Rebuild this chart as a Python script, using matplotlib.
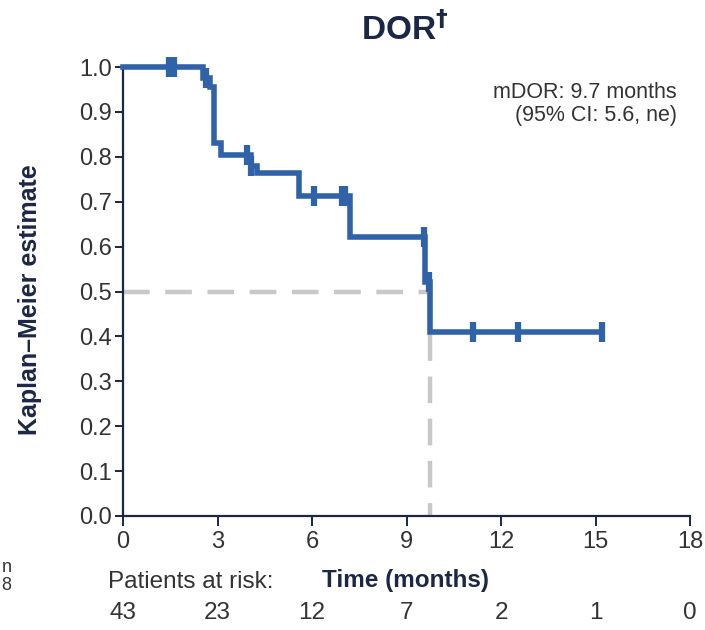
import numpy as np
import matplotlib
matplotlib.use("Agg")
import matplotlib.pyplot as plt

plt.rcParams["font.family"] = ["Liberation Sans", "DejaVu Sans"]

# Kaplan-Meier step data (time in months, survival estimate)
step_times = [0.0, 2.55, 2.75, 2.9, 3.1, 4.05, 4.25, 5.6, 7.2, 9.6, 9.75]
step_surv = [1.0, 0.975, 0.955, 0.83, 0.805, 0.78, 0.765, 0.713, 0.621, 0.522, 0.41]
end_time = 15.2
censor_times = [1.45, 1.55, 1.62, 2.65, 3.95, 4.05, 6.05, 6.95, 7.05, 9.55, 9.7, 11.1, 12.55, 15.2]
median_dor = 9.75
risk_times = [0, 3, 6, 9, 12, 15, 18]
risk_counts = [43, 23, 12, 7, 2, 1, 0]
xticks = [0, 3, 6, 9, 12, 15, 18]
yticks = [0.0, 0.1, 0.2, 0.3, 0.4, 0.5, 0.6, 0.7, 0.8, 0.9, 1.0]

blue = "#2F62A8"
navy = "#1B2745"
grey_txt = "#333333"

fig = plt.figure(figsize=(7.05, 6.3), dpi=100)
ax = fig.add_axes([123/705, 1-516/630, (690-123)/705, (516-67)/630])

# step curve
xs = list(step_times) + [end_time]
ys = list(step_surv) + [step_surv[-1]]
ax.step(xs, ys, where="post", color=blue, lw=4.0, solid_joinstyle="miter", clip_on=False, zorder=4)

# censor marks
def surv_at(t):
    idx = np.searchsorted(step_times, t, side="right") - 1
    return step_surv[idx]
cy = [surv_at(t) for t in censor_times]
ax.plot(censor_times, cy, linestyle="none", marker="|", markersize=15, markeredgewidth=4.5,
        color=blue, clip_on=False, zorder=5)

# median dashed lines
ax.plot([0, median_dor], [0.5, 0.5], color="#C8C8C8", lw=3.2, dashes=(6, 3.5), zorder=2)
ax.plot([median_dor, median_dor], [0.5, 0.0], color="#C8C8C8", lw=3.2, dashes=(6, 3.5), zorder=2)

ax.set_xlim(0, 18)
ax.set_ylim(0, 1.0)
ax.set_xticks(xticks)
ax.set_yticks(yticks)
ax.set_yticklabels([f"{v:.1f}" for v in yticks])
for s in ["top", "right"]:
    ax.spines[s].set_visible(False)
for s in ["left", "bottom"]:
    ax.spines[s].set_color(navy)
    ax.spines[s].set_linewidth(1.6)
ax.tick_params(axis="both", colors=navy, labelcolor=grey_txt, labelsize=17, width=1.4, length=7, direction="out")
ax.tick_params(axis="x", pad=4)
ax.tick_params(axis="y", pad=2, length=6)

fig.text(30/705, 1-300/630, "Kaplan\u2013Meier estimate", rotation=90, ha="center", va="center",
         fontsize=18, fontweight="bold", color=navy)

fig.text(405/705, 1-30/630, "DOR$^\\mathbf{\u2020}$", ha="center", va="center", fontsize=24,
         fontweight="bold", color=navy)

ax.text(0.977, 0.944, "mDOR: 9.7 months", transform=ax.transAxes, ha="right", va="center",
        fontsize=15.5, color=grey_txt)
ax.text(0.977, 0.893, "(95% CI: 5.6, ne)", transform=ax.transAxes, ha="right", va="center",
        fontsize=15.5, color=grey_txt)

# x label and risk table
fig.text(405/705, 1-580/630, "Time (months)", ha="center", va="center", fontsize=17.5,
         fontweight="bold", color=navy)
fig.text(108/705, 1-582/630, "Patients at risk:", ha="left", va="center", fontsize=17.5, color=grey_txt)
for t, n in zip(risk_times, risk_counts):
    xd = ax.transData.transform((t, 0))[0]
    xf = fig.transFigure.inverted().transform((xd, 0))[0]
    fig.text(xf, 1-613/630, str(n), ha="center", va="center", fontsize=17.5, color=grey_txt)

# fragments from neighbouring panel
fig.text(0.002, 1-568/630, "n", ha="left", va="center", fontsize=13, color=grey_txt)
fig.text(0.002, 1-586/630, "8", ha="left", va="center", fontsize=13, color=grey_txt)

fig.savefig("out.png", dpi=100)
